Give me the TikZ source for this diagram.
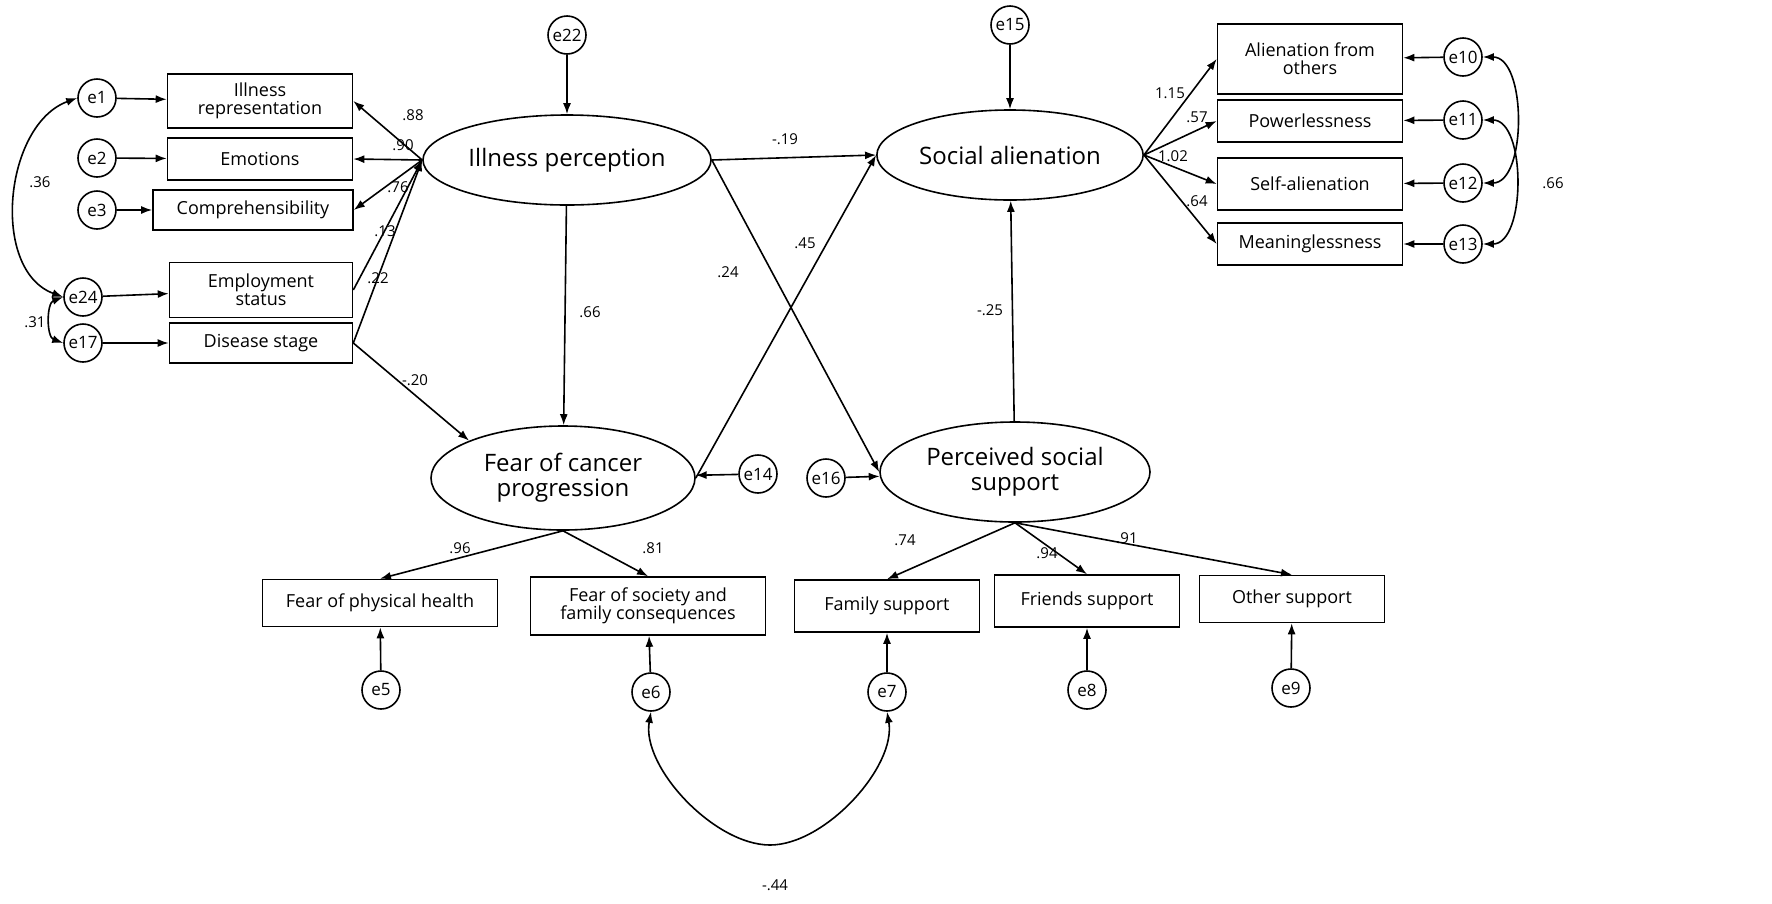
\documentclass[tikz,border=0pt]{standalone}
\usepackage{fontspec}
\setmainfont{Open Sans}
\usetikzlibrary{arrows.meta,shapes.geometric}
\begin{document}
\begin{tikzpicture}[x=1pt,y=-1pt,
 every path/.style={line width=1.6pt},
 arr/.style={-{Latex[length=11pt,width=8pt]}},
 dbl/.style={{Latex[length=11pt,width=8pt]}-{Latex[length=11pt,width=8pt]}},
 err/.style={circle,draw,minimum size=38pt,inner sep=0pt,font=\fontsize{17}{19}\selectfont},
 box/.style={draw,minimum height=#1,align=center,inner sep=2pt,font=\fontsize{18}{21}\selectfont},
 lat/.style={ellipse,draw,align=center,font=\fontsize{24}{27}\selectfont},
 lab/.style={font=\fontsize{15}{17}\selectfont}]
\useasboundingbox (0,0) rectangle (1772,903);
% left boxes
\node[box=54pt,minimum width=185pt] (ir) at (260,101) {Illness\\[-3pt]representation};
\node[box=42pt,minimum width=185pt] (em) at (260,159) {Emotions};
\node[box=40pt,minimum width=200pt] (co) at (253,210) {Comprehensibility};
\node[box=55pt,minimum width=183pt] (es) at (261,290) {Employment\\[-3pt]status};
\node[box=40pt,minimum width=183pt] (ds) at (261,343) {Disease stage};
\node[err] (e1) at (97,98) {e1};
\node[err] (e2) at (97,158) {e2};
\node[err] (e3) at (97,210) {e3};
\node[err] (e24) at (83,297) {e24};
\node[err] (e17) at (83,343) {e17};
% latents
\node[lat,minimum width=272pt,minimum height=90pt] (ip) at (567,160) {Illness perception};
\node[lat,minimum width=264pt,minimum height=104pt] (fc) at (563,478) {Fear of cancer\\[-2pt]progression};
\node[lat,minimum width=266pt,minimum height=90pt] (sa) at (1010,155) {Social alienation};
\node[lat,minimum width=270pt,minimum height=100pt] (ps) at (1015,472) {Perceived social\\[-2pt]support};
\node[err] (e22) at (567,35) {e22};
\node[err] (e14) at (758,474) {e14};
\node[err] (e15) at (1010,25) {e15};
\node[err] (e16) at (826,478) {e16};
% right boxes
\node[box=70pt,minimum width=185pt] (ao) at (1310,59) {Alienation from\\[-3pt]others};
\node[box=42pt,minimum width=185pt] (pw) at (1310,121) {Powerlessness};
\node[box=52pt,minimum width=185pt] (sf) at (1310,184) {Self-alienation};
\node[box=42pt,minimum width=185pt] (mn) at (1310,244) {Meaninglessness};
\node[err] (e10) at (1463,57) {e10};
\node[err] (e11) at (1463,120) {e11};
\node[err] (e12) at (1463,183) {e12};
\node[err] (e13) at (1463,244) {e13};
% bottom boxes
\node[box=47pt,minimum width=235pt] (fp) at (380,603) {Fear of physical health};
\node[box=58pt,minimum width=235pt] (fs) at (648,606) {Fear of society and\\[-3pt]family consequences};
\node[box=52pt,minimum width=185pt] (fa) at (887,606) {Family support};
\node[box=52pt,minimum width=185pt] (fr) at (1087,601) {Friends support};
\node[box=47pt,minimum width=185pt] (ot) at (1292,599) {Other support};
\node[err] (e5) at (381,690) {e5};
\node[err] (e6) at (651,692) {e6};
\node[err] (e7) at (887,692) {e7};
\node[err] (e8) at (1087,690) {e8};
\node[err] (e9) at (1291,688) {e9};
\coordinate (low) at (770,845);
% error arrows
\foreach \a/\b in {e1/ir,e2/em,e3/co,e24/es,e17/ds,e22/ip,e14/fc,e15/sa,e16/ps,e10/ao,e11/pw,e12/sf,e13/mn,e5/fp,e6/fs,e7/fa,e8/fr,e9/ot}
  \draw[arr] (\a) -- (\b);
% loadings
\draw[arr] (ip.west) -- (ir.east);
\draw[arr] (ip.west) -- (em.east);
\draw[arr] (ip.west) -- (co.east);
\draw[arr] (es.east) -- (ip.west);
\draw[arr] (ds.east) -- (ip.west);
\draw[arr] (ds.east) -- (fc.north west);
\draw[arr] (ip) -- (fc);
\draw[arr] (ip.east) -- (sa.west);
\draw[arr] (ip.east) -- (ps.west);
\draw[arr] (fc.east) -- (sa.west);
\draw[arr] (ps) -- (sa);
\foreach \b in {ao,pw,sf,mn} \draw[arr] (sa.east) -- (\b.west);
\foreach \b in {fp,fs} \draw[arr] (fc.south) -- (\b.north);
\foreach \b in {fa,fr,ot} \draw[arr] (ps.south) -- (\b.north);
% covariances
\draw[dbl] (e1.west) to[out=200,in=160] (e24.west);
\draw[dbl] (e24.west) to[out=200,in=160] (e17.west);
\draw[dbl] (e6.south) to[out=-100,in=180,looseness=0.8] (low) to[out=0,in=-80,looseness=0.8] (e7.south);
\draw[dbl] (e10.east) to[out=0,in=0,looseness=0.9] (e12.east);
\draw[dbl] (e11.east) to[out=0,in=0,looseness=0.9] (e13.east);
% labels
\node[lab] at (413,115) {.88};
\node[lab] at (403,145) {.90};
\node[lab] at (398,187) {.76};
\node[lab] at (385,231) {.13};
\node[lab] at (378,278) {.22};
\node[lab] at (415,380) {-.20};
\node[lab] at (590,312) {.66};
\node[lab] at (785,139) {-.19};
\node[lab] at (728,272) {.24};
\node[lab] at (805,243) {.45};
\node[lab] at (990,310) {-.25};
\node[lab] at (1170,93) {1.15};
\node[lab] at (1197,117) {.57};
\node[lab] at (1173,156) {1.02};
\node[lab] at (1197,201) {.64};
\node[lab] at (460,548) {.96};
\node[lab] at (653,548) {.81};
\node[lab] at (905,540) {.74};
\node[lab] at (1047,553) {.94};
\node[lab] at (1127,538) {.91};
\node[lab] at (40,182) {.36};
\node[lab] at (35,322) {.31};
\node[lab] at (775,885) {-.44};
\node[lab] at (1553,183) {.66};
\end{tikzpicture}
\end{document}
